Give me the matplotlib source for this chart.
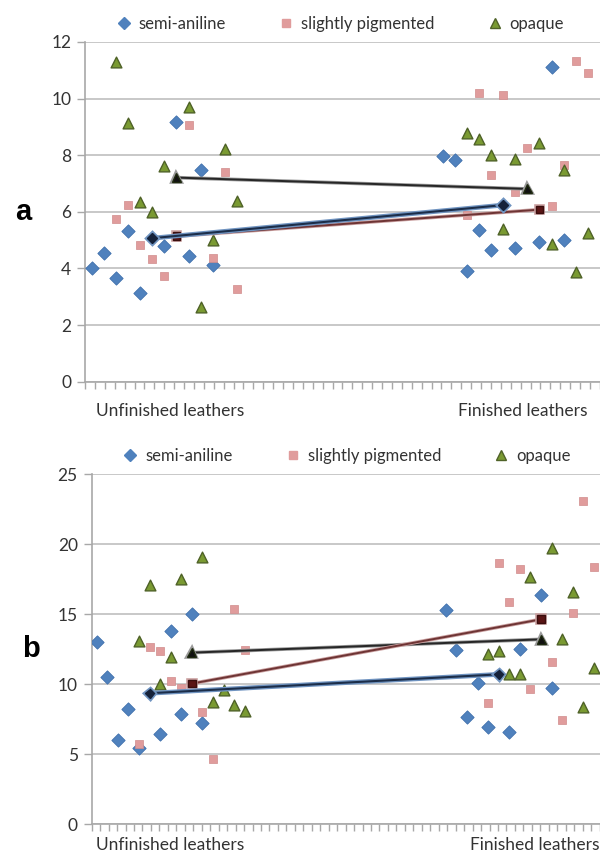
import numpy as np
import matplotlib
matplotlib.use("Agg")
import matplotlib.pyplot as plt
import matplotlib.patheffects as pe
from matplotlib.lines import Line2D

plt.rcParams['font.family'] = ['Lato', 'DejaVu Sans']

# ---- panel a data (category position, value) ----
a_semi_x = [1, 2, 3, 4, 5, 7, 8, 9, 10, 11, 30, 31, 32, 33, 34, 36, 38, 39, 40]
a_semi_y = [4.0, 4.53, 3.67, 5.32, 3.15, 4.79, 9.16, 4.44, 7.47, 4.11,
            7.98, 7.82, 3.91, 5.35, 4.65, 4.71, 4.92, 11.12, 5.02]
a_pig_x = [3, 4, 5, 6, 7, 9, 11, 12, 13, 32, 33, 34, 35, 36, 37, 39, 40, 41, 42]
a_pig_y = [5.75, 6.25, 4.82, 4.32, 3.73, 9.05, 4.38, 7.39, 3.28,
           5.88, 10.18, 7.29, 10.13, 6.71, 8.26, 6.2, 7.66, 11.32, 10.91]
a_opq_x = [3, 4, 5, 6, 7, 9, 10, 11, 12, 13, 32, 33, 34, 35, 36, 38, 39, 40, 41, 42]
a_opq_y = [11.29, 9.15, 6.35, 5.99, 7.62, 9.7, 2.65, 5.0, 8.21, 6.38,
           8.8, 8.59, 8.02, 5.38, 7.88, 8.44, 4.85, 7.49, 3.88, 5.24]
a_semi_mean_x, a_semi_mean_y = [6, 35], [5.07, 6.24]
a_pig_mean_x, a_pig_mean_y = [8, 38], [5.14, 6.08]
a_opq_mean_x, a_opq_mean_y = [8, 37], [7.21, 6.81]

# ---- panel b data ----
b_semi_x = [1, 2, 3, 4, 5, 7, 8, 9, 10, 11, 34, 35, 36, 37, 38, 40, 41, 43, 44]
b_semi_y = [13.02, 10.55, 6.02, 8.21, 5.43, 6.45, 13.79, 7.86, 15.05, 7.21,
            15.31, 12.45, 7.69, 10.07, 6.98, 6.57, 12.52, 16.4, 9.76]
b_pig_x = [5, 6, 7, 8, 9, 11, 12, 14, 15, 38, 39, 40, 41, 42, 44, 45, 46, 47, 48]
b_pig_y = [5.74, 12.67, 12.36, 10.21, 9.76, 8.05, 4.67, 15.38, 12.45,
           8.69, 18.64, 15.86, 18.21, 9.64, 11.57, 7.45, 15.12, 23.1, 18.4]
b_opq_x = [5, 6, 7, 8, 9, 11, 12, 13, 14, 15, 38, 39, 40, 41, 42, 44, 45, 46, 47, 48]
b_opq_y = [13.1, 17.07, 10.0, 11.98, 17.52, 19.1, 8.71, 9.6, 8.52, 8.12,
           12.14, 12.38, 10.71, 10.71, 17.69, 19.71, 13.21, 16.57, 8.4, 11.14]
b_semi_mean_x, b_semi_mean_y = [6, 39], [9.36, 10.71]
b_pig_mean_x, b_pig_mean_y = [10, 43], [10.05, 14.64]
b_opq_mean_x, b_opq_mean_y = [10, 43], [12.26, 13.21]

series_names = ['semi-aniline', 'slightly pigmented', 'opaque']
group_labels = ['Unfinished leathers', 'Finished leathers']

BLUE = '#4f81bd'
PINK = '#e09c9c'
GREEN = '#7a9a32'
GREEN_EDGE = '#4f6228'
GRID = '#c4c4c4'
TXT = '#333333'


def draw_panel(ax, data, means, xlim, ylim, ystep, tick_step, label_pos, label_y, letter, leg_x):
    (sx, sy), (px, py), (ox, oy) = data
    ax.scatter(sx, sy, marker='D', s=46, color=BLUE, edgecolor='#3f70ad', linewidth=0.6, zorder=3)
    ax.scatter(px, py, marker='s', s=30, color=PINK, edgecolor='#d08c8c', linewidth=0.5, zorder=3)
    ax.scatter(ox, oy, marker='^', s=60, color=GREEN, edgecolor=GREEN_EDGE, linewidth=1.0, zorder=3)

    (smx, smy), (pmx, pmy), (omx, omy) = means
    ax.plot(omx, omy, color='#262626', lw=1.4, marker='^', ms=6.5, mfc='#111111', mec='#1f2a10', zorder=4,
            path_effects=[pe.Stroke(linewidth=2.6, foreground='#9a9a9a'), pe.Normal()])
    ax.plot(pmx, pmy, color='#6e3434', lw=1.4, marker='s', ms=5.5, mfc='#5a1515', mec='#3a0e0e', zorder=4,
            path_effects=[pe.Stroke(linewidth=2.6, foreground='#caa0a0'), pe.Normal()])
    ax.plot(smx, smy, color='#1c2e4a', lw=1.5, marker='D', ms=4.8, mfc='#15223a', mec='#15223a', zorder=5,
            path_effects=[pe.Stroke(linewidth=3.4, foreground='#6f93c0'), pe.Normal()])

    ax.set_xlim(*xlim)
    ax.set_ylim(*ylim)
    ax.set_yticks(np.arange(ylim[0], ylim[1] + 0.1, ystep))
    ax.yaxis.grid(True, color=GRID, lw=1.3)
    ax.set_axisbelow(True)
    ax.set_xticks(np.arange(xlim[0], xlim[1], tick_step))
    ax.set_xticklabels([])
    ax.tick_params(axis='x', length=5, color='#a8a8a8', width=1)
    ax.tick_params(axis='y', length=6, color='#a8a8a8', width=1, labelsize=12.5, labelcolor=TXT, pad=4)
    for side in ['top', 'right']:
        ax.spines[side].set_visible(False)
    for side in ['left', 'bottom']:
        ax.spines[side].set_color('#a8a8a8')
        ax.spines[side].set_linewidth(1.2)

    for xpos, txt in zip(label_pos, group_labels):
        ax.text(xpos, label_y, txt, transform=ax.get_xaxis_transform(), ha='center', va='center',
                fontsize=12.5, color=TXT, clip_on=False)

    ax.text(-0.12, 0.5, letter, transform=ax.transAxes, fontsize=21, fontweight='bold',
            family=['Liberation Sans', 'DejaVu Sans'], ha='center', va='center')

    handles = [
        Line2D([], [], ls='', marker='D', ms=6.5, color=BLUE),
        Line2D([], [], ls='', marker='s', ms=6, color=PINK),
        Line2D([], [], ls='', marker='^', ms=7.5, color=GREEN, mec=GREEN_EDGE),
    ]
    ax.legend(handles, series_names, loc='lower left', bbox_to_anchor=(leg_x, 1.0), ncol=3,
              frameon=False, fontsize=12, handlelength=1.0, handletextpad=0.4, columnspacing=3.1,
              borderaxespad=0.2, labelcolor=TXT)


fig = plt.figure(figsize=(6, 8.56), dpi=100)
ax_a = fig.add_axes([0.1417, 0.554, 0.8583, 0.397])
ax_b = fig.add_axes([0.1528, 0.037, 0.8472, 0.409])

draw_panel(ax_a,
           [(a_semi_x, a_semi_y), (a_pig_x, a_pig_y), (a_opq_x, a_opq_y)],
           [(a_semi_mean_x, a_semi_mean_y), (a_pig_mean_x, a_pig_mean_y), (a_opq_mean_x, a_opq_mean_y)],
           (0.45, 43.0), (0, 12), 2, 0.818, (7.5, 36.6), -0.086, 'a', 0.04)
draw_panel(ax_b,
           [(b_semi_x, b_semi_y), (b_pig_x, b_pig_y), (b_opq_x, b_opq_y)],
           [(b_semi_mean_x, b_semi_mean_y), (b_pig_mean_x, b_pig_mean_y), (b_opq_mean_x, b_opq_mean_y)],
           (0.53, 48.57), (0, 25), 5, 0.80, (7.9, 42.4), -0.058, 'b', 0.04)

fig.savefig('out.png', dpi=100)
